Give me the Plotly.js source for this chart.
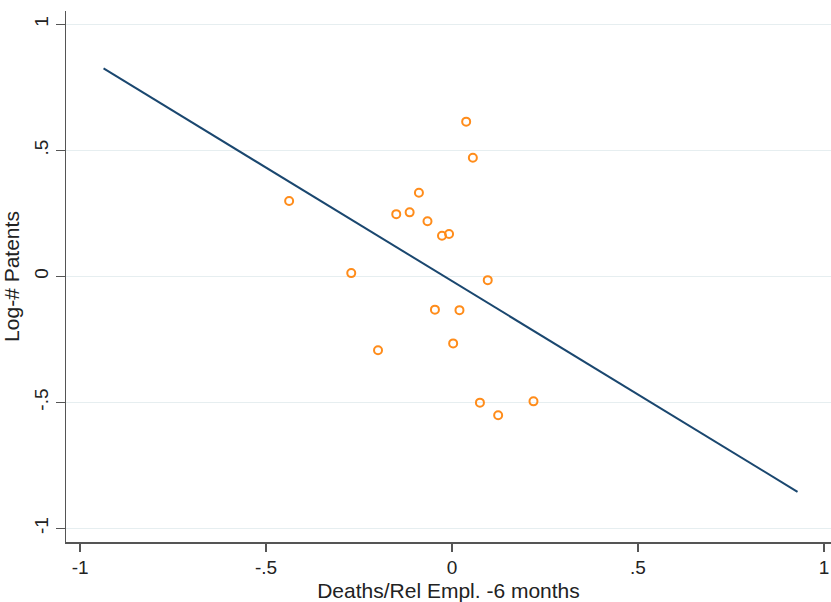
<!DOCTYPE html>
<html>
<head>
<meta charset="utf-8">
<script src="https://cdn.plot.ly/plotly-3.0.1.min.js"></script>
<style>html,body{margin:0;padding:0;background:#fff;}#chart{width:831px;height:602px;}</style>
</head>
<body>
<div id="chart"></div>
<script>
// Scatter points: Deaths/Rel Empl. -6 months vs Log-# Patents
const deathsX = [-0.438, -0.271, -0.199, -0.150, -0.114, -0.089, -0.066, -0.027, -0.008, 0.038, 0.056, 0.096, -0.046, 0.020, 0.003, 0.075, 0.124, 0.219];
const patentsY = [0.299, 0.013, -0.293, 0.247, 0.254, 0.332, 0.219, 0.161, 0.168, 0.614, 0.471, -0.015, -0.132, -0.134, -0.266, -0.501, -0.551, -0.496];
// Fitted line endpoints
const fitX = [-0.937, 0.929];
const fitY = [0.825, -0.855];
// Tick labels
const tickVals = [-1, -0.5, 0, 0.5, 1];
const tickText = ["-1", "-.5", "0", ".5", "1"];

const traces = [
  {x: fitX, y: fitY, type: 'scatter', mode: 'lines', line: {color: '#1a476f', width: 2}, hoverinfo: 'skip'},
  {x: deathsX, y: patentsY, type: 'scatter', mode: 'markers',
   marker: {symbol: 'circle-open', size: 8, color: '#ff8c1a', line: {width: 2, color: '#ff8c1a'}}}
];
const font = {family: 'Liberation Sans, Arial, sans-serif', color: '#222'};
const layout = {
  width: 831, height: 602,
  margin: {l: 66, r: 0, t: 11, b: 60},
  paper_bgcolor: '#fff', plot_bgcolor: '#fff',
  showlegend: false,
  font: font,
  xaxis: {
    range: [-1.038, 1.019], tickvals: tickVals, ticktext: tickText,
    showgrid: false, zeroline: false,
    showline: true, linecolor: '#555', linewidth: 1.5,
    ticks: 'outside', ticklen: 8, tickcolor: '#555', tickwidth: 1.5,
    tickfont: {size: 19, family: font.family, color: '#222'},
    title: {text: 'Deaths/Rel Empl. -6 months', font: {size: 21, family: font.family, color: '#222'}, standoff: 6}
  },
  yaxis: {
    range: [-1.054, 1.053], tickvals: tickVals, ticktext: tickText,
    showgrid: true, gridcolor: '#e6eef0', gridwidth: 1.2, zeroline: false,
    showline: true, linecolor: '#555', linewidth: 1.5,
    ticks: 'outside', ticklen: 9, tickcolor: '#555', tickwidth: 1.5,
    tickangle: -90,
    tickfont: {size: 19, family: font.family, color: '#222'},
    title: {text: 'Log-# Patents', font: {size: 21, family: font.family, color: '#222'}, standoff: 8}
  }
};
Plotly.newPlot('chart', traces, layout, {staticPlot: true, displayModeBar: false});
</script>
</body>
</html>
